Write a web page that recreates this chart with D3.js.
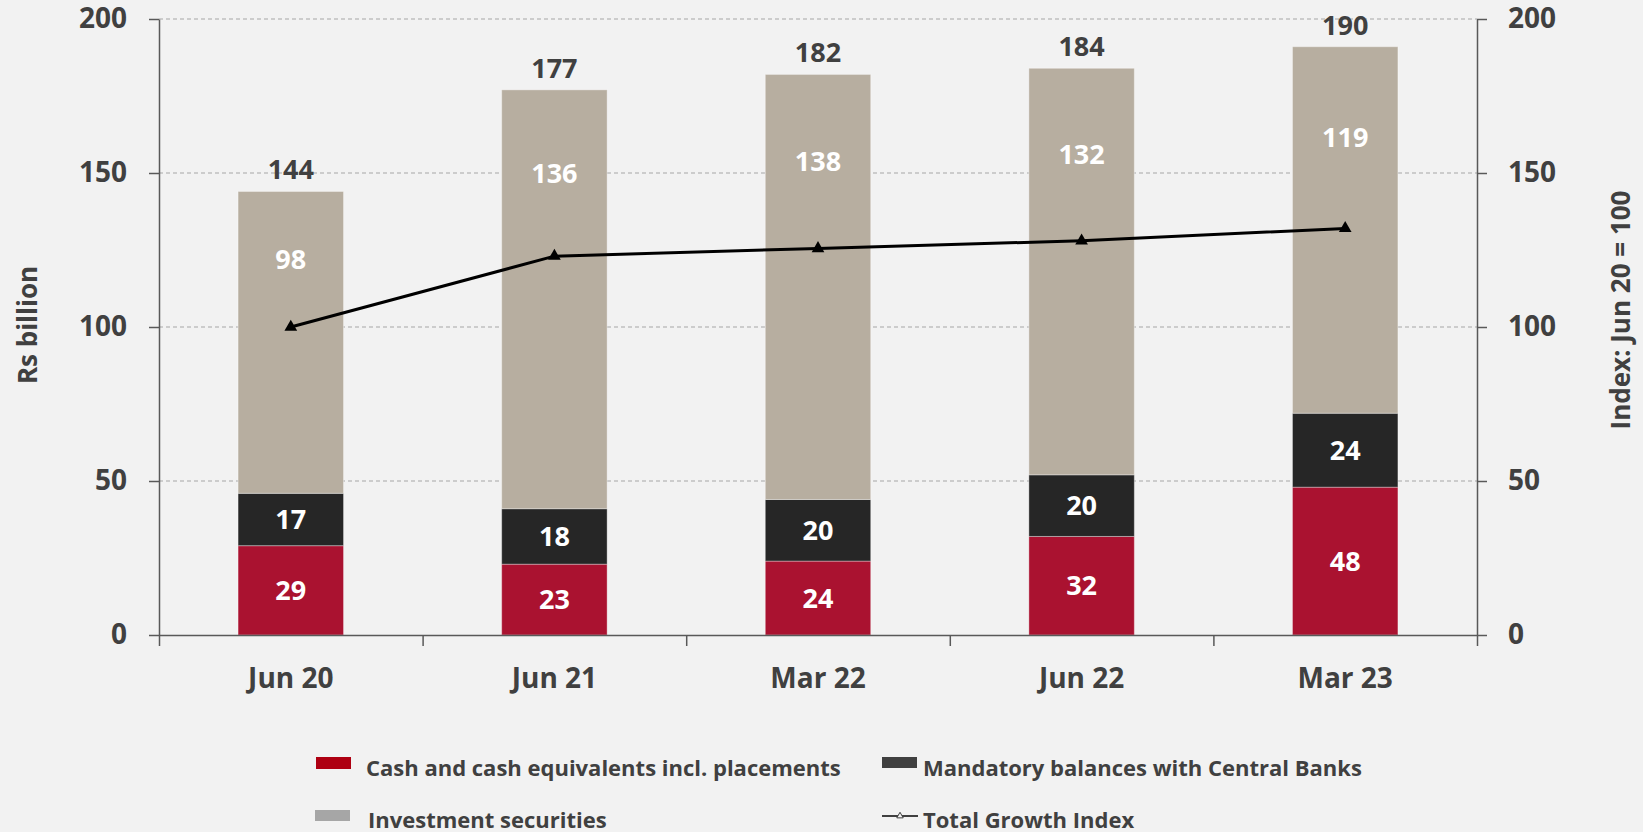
<!DOCTYPE html>
<html>
<head>
<meta charset="utf-8">
<script src="https://cdn.jsdelivr.net/npm/d3@7"></script>
<style>
  html, body { margin: 0; padding: 0; background: #F2F2F2; }
  svg { display: block; }
  text { font-family: "Open Sans", "Liberation Sans", sans-serif; font-weight: 700; }
</style>
</head>
<body>
<svg id="chart" width="1643" height="832"></svg>
<script>
// ---- data ----
const categories = ["Jun 20", "Jun 21", "Mar 22", "Jun 22", "Mar 23"];
const cashValues = [29, 23, 24, 32, 48];
const mandatoryValues = [17, 18, 20, 20, 24];
const investmentValues = [98, 136, 138, 132, 119];
const totalLabels = [144, 177, 182, 184, 190];
const growthIndex = [100, 123, 125.5, 128, 132];
const yTicks = [0, 50, 100, 150, 200];
const seriesNames = ["Cash and cash equivalents incl. placements", "Mandatory balances with Central Banks", "Investment securities", "Total Growth Index"];

// ---- layout ----
const W = 1643, H = 832;
const plotLeft = 159, plotRight = 1477, plotTop = 19, plotBottom = 635;
const barColors = ["#AA1230", "#262626", "#B7AEA0"];
const legendColors = ["#AE0012", "#404040", "#A6A6A6"];
const textColor = "#404040";

const svg = d3.select("#chart");
svg.append("rect").attr("width", W).attr("height", H).attr("fill", "#F2F2F2");

const x = d3.scaleBand().domain(categories).range([plotLeft, plotRight]).paddingInner(0.6).paddingOuter(0.3);
const y = d3.scaleLinear().domain([0, 200]).range([plotBottom, plotTop]);
const yR = d3.scaleLinear().domain([0, 200]).range([plotBottom, plotTop]);

// gridlines
svg.append("g").selectAll("line").data(yTicks.filter(d => d > 0)).join("line")
  .attr("x1", plotLeft).attr("x2", plotRight)
  .attr("y1", d => y(d)).attr("y2", d => y(d))
  .attr("stroke", "#A6A6A6").attr("stroke-width", 1).attr("stroke-dasharray", "4,3");

// stacked bars
const rows = categories.map((c, i) => ({ cat: c, cash: cashValues[i], mand: mandatoryValues[i], inv: investmentValues[i] }));
const keys = ["cash", "mand", "inv"];
const stacked = d3.stack().keys(keys)(rows);

const barG = svg.append("g");
stacked.forEach((layer, li) => {
  barG.append("g").selectAll("rect").data(layer).join("rect")
    .attr("x", d => x(d.data.cat))
    .attr("width", x.bandwidth())
    .attr("y", d => y(d[1]))
    .attr("height", d => y(d[0]) - y(d[1]))
    .attr("fill", barColors[li])
    .attr("stroke", "rgba(255,255,255,0.35)")
    .attr("stroke-width", 1);
});

// axes
const axisColor = "#595959";
function styleAxis(g) {
  g.selectAll("path.domain").attr("stroke", axisColor).attr("stroke-width", 1.5);
  g.selectAll(".tick line").attr("stroke", axisColor).attr("stroke-width", 1.5);
  g.selectAll("text").attr("fill", textColor).style("font-size", "28px").style("font-family", '"Open Sans", sans-serif').style("font-weight", 700);
}

const yAxisL = svg.append("g").attr("transform", `translate(${plotLeft},0)`)
  .call(d3.axisLeft(y).tickValues(yTicks).tickSize(10).tickPadding(22).tickSizeOuter(0));
styleAxis(yAxisL);

const yAxisR = svg.append("g").attr("transform", `translate(${plotRight},0)`)
  .call(d3.axisRight(yR).tickValues(yTicks).tickSize(10).tickPadding(21).tickSizeOuter(0));
styleAxis(yAxisR);

// x axis: boundary ticks
const xb = d3.scaleLinear().domain([0, categories.length]).range([plotLeft, plotRight]);
const xAxisTicks = svg.append("g").attr("transform", `translate(0,${plotBottom})`)
  .call(d3.axisBottom(xb).tickValues(d3.range(categories.length + 1)).tickFormat("").tickSize(11).tickSizeOuter(0));
styleAxis(xAxisTicks);

// x axis: category labels
const xAxisLabels = svg.append("g").attr("transform", `translate(0,${plotBottom})`)
  .call(d3.axisBottom(x).tickSize(0).tickPadding(33));
xAxisLabels.select("path.domain").remove();
styleAxis(xAxisLabels);

// growth index line
const line = d3.line().x((d, i) => x(categories[i]) + x.bandwidth() / 2).y(d => yR(d));
svg.append("path").datum(growthIndex)
  .attr("d", line).attr("fill", "none").attr("stroke", "#000").attr("stroke-width", 3);
svg.append("g").selectAll("path").data(growthIndex).join("path")
  .attr("d", d3.symbol(d3.symbolTriangle, 70))
  .attr("transform", (d, i) => `translate(${x(categories[i]) + x.bandwidth() / 2},${yR(d)})`)
  .attr("fill", "#000");

// data labels
const labelG = svg.append("g").attr("text-anchor", "middle").style("font-size", "27px");
const cx = c => x(c) + x.bandwidth() / 2;
[0, 1].forEach(li => {
  labelG.append("g").selectAll("text").data(stacked[li]).join("text")
    .attr("x", d => cx(d.data.cat))
    .attr("y", d => (y(d[0]) + y(d[1])) / 2)
    .attr("dy", "0.36em")
    .attr("fill", "#fff")
    .text(d => d[1] - d[0]);
});
labelG.append("g").selectAll("text").data(stacked[2]).join("text")
  .attr("x", d => cx(d.data.cat))
  .attr("y", (d, i) => (y(d[1]) + yR(growthIndex[i])) / 2)
  .attr("dy", "0.36em")
  .attr("fill", "#fff")
  .text(d => d[1] - d[0]);
labelG.append("g").selectAll("text").data(stacked[2]).join("text")
  .attr("x", d => cx(d.data.cat))
  .attr("y", d => y(d[1]) - 12)
  .attr("fill", textColor)
  .text((d, i) => totalLabels[i]);

// axis titles
svg.append("text")
  .attr("transform", "translate(37,325) rotate(-90)")
  .attr("text-anchor", "middle").attr("fill", textColor).style("font-size", "26px")
  .text("Rs billion");
svg.append("text")
  .attr("transform", "translate(1630,310) rotate(-90)")
  .attr("text-anchor", "middle").attr("fill", textColor).style("font-size", "26px")
  .text("Index: Jun 20 = 100");

// legend
const legend = [
  { name: seriesNames[0], type: "rect", color: legendColors[0], sx: 316, sy: 757, sh: 12, tx: 366, ty: 776 },
  { name: seriesNames[1], type: "rect", color: legendColors[1], sx: 882, sy: 757, sh: 11, tx: 923, ty: 776 },
  { name: seriesNames[2], type: "rect", color: legendColors[2], sx: 315, sy: 810, sh: 11, tx: 368, ty: 828 },
  { name: seriesNames[3], type: "line", color: "#404040", sx: 882, sy: 816, sh: 0, tx: 923, ty: 828 }
];
const lg = svg.append("g");
legend.forEach(l => {
  if (l.type === "rect") {
    lg.append("rect").attr("x", l.sx).attr("y", l.sy).attr("width", 35).attr("height", l.sh).attr("fill", l.color);
  } else {
    lg.append("line").attr("x1", l.sx).attr("x2", l.sx + 36).attr("y1", l.sy).attr("y2", l.sy)
      .attr("stroke", l.color).attr("stroke-width", 2);
    lg.append("path").attr("d", d3.symbol(d3.symbolTriangle, 18))
      .attr("transform", `translate(${l.sx + 18},${l.sy})`)
      .attr("fill", "#F2F2F2").attr("stroke", l.color).attr("stroke-width", 1);
  }
  lg.append("text").attr("x", l.tx).attr("y", l.ty).attr("fill", textColor).style("font-size", "22px").text(l.name);
});
</script>
</body>
</html>
